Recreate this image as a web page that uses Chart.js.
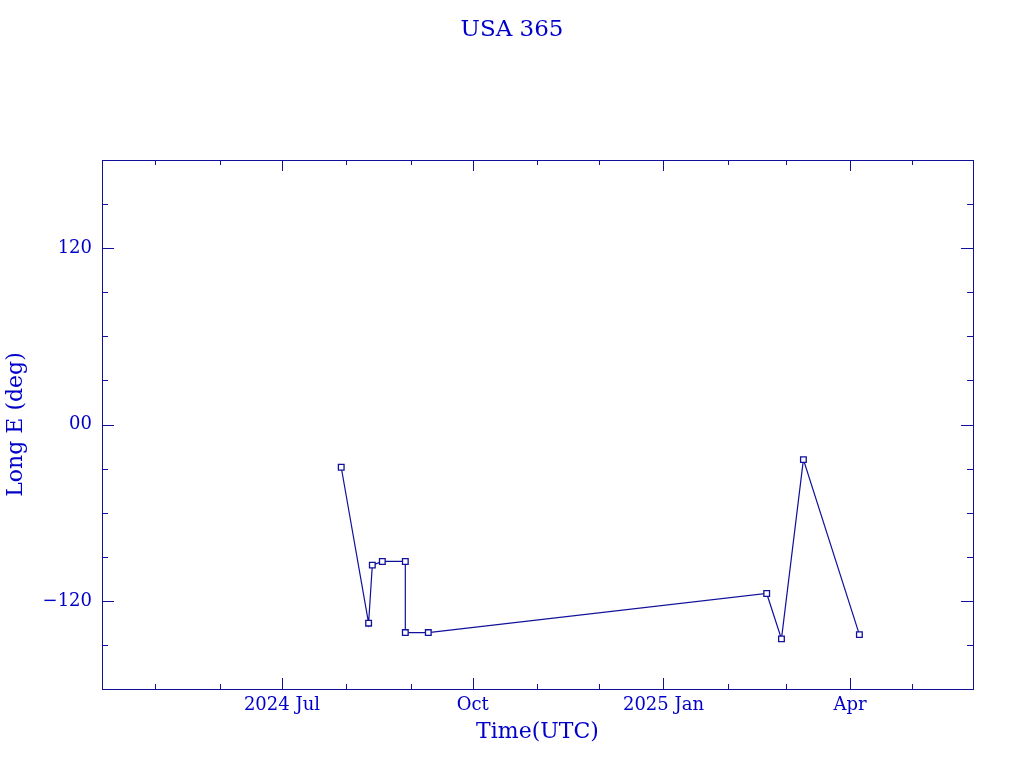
<!DOCTYPE html>
<html>
<head>
    <title>USA 365</title>
    <script src="https://cdn.jsdelivr.net/npm/chart.js"></script>
    <style>
        body { margin: 0; background: #fff; }
        .chart-container { width: 1024px; height: 768px; }
    </style>
</head>
<body>
    <div class="chart-container">
        <canvas id="lonChart" width="1024" height="768"></canvas>
    </div>

    <script>
        // observation times (UTC) and longitude east (deg)
        const obsTimes = [
            '2024-07-29T14:00Z', '2024-08-11T19:00Z', '2024-08-13T14:00Z', '2024-08-18T10:00Z',
            '2024-08-29T12:00Z', '2024-08-29T12:00Z', '2024-09-09T14:00Z',
            '2025-02-19T19:00Z', '2025-02-26T22:00Z', '2025-03-09T12:00Z', '2025-04-05T12:00Z'
        ];
        const longE = [-29.1, -135.2, -95.7, -93.2, -93.2, -141.6, -141.6, -115.0, -145.9, -23.9, -143.0];

        // axis ticks
        const xRange = ['2024-04-05T05:00Z', '2025-05-30T07:00Z'];
        const xMajorTicks = ['2024-07-01T00:00Z', '2024-10-01T00:00Z', '2025-01-01T00:00Z', '2025-04-01T00:00Z'];
        const xTickLabels = ['2024 Jul', 'Oct', '2025 Jan', 'Apr'];
        const xMinorTicks = [
            '2024-05-01T00:00Z', '2024-06-01T00:00Z', '2024-08-01T00:00Z', '2024-09-01T00:00Z',
            '2024-11-01T00:00Z', '2024-12-01T00:00Z', '2025-02-01T00:00Z', '2025-03-01T00:00Z',
            '2025-05-01T00:00Z'
        ];
        const yMajorTicks = [120, 0, -120];
        const yTickLabels = ['120', '00', '\u2212120'];
        const yMinorTicks = [150, 90, 60, 30, -30, -60, -90, -150];

        const textColor = '#0000c8';
        const frameColor = '#10109c';

        const toMs = s => Date.parse(s);
        const points = obsTimes.map((t, i) => ({ x: toMs(t), y: longE[i] }));

        // frame with inward ticks on all four sides
        const framePlugin = {
            id: 'frame',
            afterDatasetsDraw(chart) {
                const { ctx, chartArea: a, scales } = chart;
                const xs = scales.x, ys = scales.y;
                ctx.save();
                ctx.strokeStyle = frameColor;
                ctx.lineWidth = 1;
                ctx.strokeRect(a.left + 0.5, a.top + 0.5, a.right - a.left, a.bottom - a.top);
                ctx.beginPath();
                const vTick = (v, len) => {
                    const px = Math.round(xs.getPixelForValue(v)) + 0.5;
                    ctx.moveTo(px, a.bottom); ctx.lineTo(px, a.bottom - len);
                    ctx.moveTo(px, a.top); ctx.lineTo(px, a.top + len);
                };
                const hTick = (v, len) => {
                    const py = Math.round(ys.getPixelForValue(v)) + 0.5;
                    ctx.moveTo(a.left, py); ctx.lineTo(a.left + len, py);
                    ctx.moveTo(a.right, py); ctx.lineTo(a.right - len, py);
                };
                xMajorTicks.forEach(t => vTick(toMs(t), 11));
                xMinorTicks.forEach(t => vTick(toMs(t), 5));
                yMajorTicks.forEach(v => hTick(v, 12));
                yMinorTicks.forEach(v => hTick(v, 6));
                ctx.stroke();
                ctx.restore();
            }
        };

        const ctx = document.getElementById('lonChart').getContext('2d');
        new Chart(ctx, {
            type: 'line',
            data: {
                datasets: [{
                    data: points,
                    borderColor: frameColor,
                    borderWidth: 1.2,
                    pointStyle: 'rect',
                    pointRadius: 4,
                    pointBorderWidth: 1.3,
                    pointBorderColor: frameColor,
                    pointBackgroundColor: '#ffffff',
                    tension: 0
                }]
            },
            options: {
                responsive: false,
                animation: false,
                layout: { padding: 0 },
                plugins: {
                    legend: { display: false },
                    tooltip: { enabled: false },
                    title: {
                        display: true,
                        text: 'USA 365',
                        color: textColor,
                        font: { family: 'DejaVu Serif', size: 23, weight: 'normal', lineHeight: 1.2 },
                        padding: { top: 16, bottom: 116.4 }
                    }
                },
                scales: {
                    x: {
                        type: 'linear',
                        min: toMs(xRange[0]),
                        max: toMs(xRange[1]),
                        grid: { display: false, drawTicks: false },
                        border: { display: false },
                        afterBuildTicks: s => { s.ticks = xMajorTicks.map(t => ({ value: toMs(t) })); },
                        afterFit: s => { s.height = 79; },
                        ticks: {
                            autoSkip: false,
                            maxRotation: 0,
                            padding: 6,
                            color: textColor,
                            font: { family: 'DejaVu Serif', size: 18 },
                            callback: (v, i) => xTickLabels[i]
                        },
                        title: {
                            display: true,
                            text: 'Time(UTC)',
                            color: textColor,
                            font: { family: 'DejaVu Serif', size: 22, lineHeight: 1.2 },
                            padding: { top: 0, bottom: 23 }
                        }
                    },
                    y: {
                        min: -180,
                        max: 180,
                        grid: { display: false, drawTicks: false },
                        border: { display: false },
                        afterBuildTicks: s => { s.ticks = yMajorTicks.map(v => ({ value: v })); },
                        afterFit: s => { s.width = 102; },
                        ticks: {
                            autoSkip: false,
                            padding: 10,
                            color: textColor,
                            font: { family: 'DejaVu Serif', size: 18 },
                            callback: (v, i) => yTickLabels[i]
                        },
                        title: {
                            display: true,
                            text: 'Long E (deg)',
                            color: textColor,
                            font: { family: 'DejaVu Serif', size: 22, lineHeight: 1.2 },
                            padding: { top: 3, bottom: 0 }
                        }
                    },
                    // empty right axis, only reserves the right margin
                    yRight: {
                        position: 'right',
                        min: -180,
                        max: 180,
                        grid: { display: false, drawTicks: false },
                        border: { display: false },
                        ticks: { display: false },
                        afterFit: s => { s.width = 51; }
                    }
                }
            },
            plugins: [framePlugin]
        });
    </script>
</body>
</html>
